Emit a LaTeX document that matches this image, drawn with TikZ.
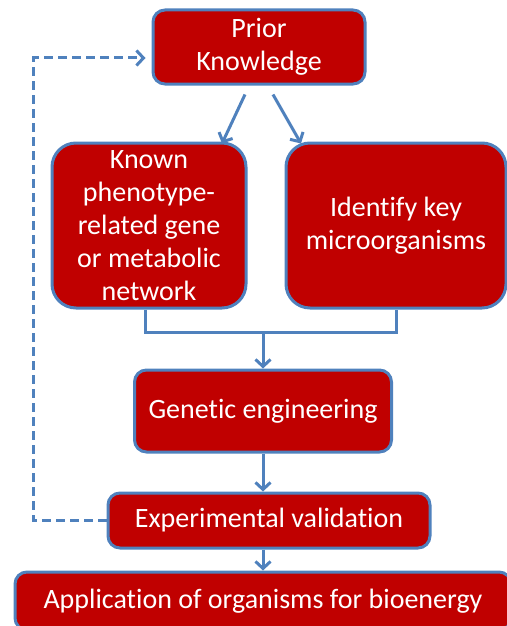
\documentclass[tikz,border=0pt]{standalone}
\usepackage{fontspec}
\setmainfont{Carlito}[Ligatures=NoCommon]
\usetikzlibrary{positioning,arrows.meta}

\definecolor{boxRed}{HTML}{C00000}
\definecolor{edgeBlue}{HTML}{4F81BD}

\tikzset{
    stagebox/.style={draw=edgeBlue, line width=3pt, fill=boxRed, text=white,
        rounded corners=12pt, align=center, inner sep=0pt,
        font=\fontsize{28}{33}\selectfont},
    flow/.style={draw=edgeBlue, line width=3pt, -{Straight Barb[length=7pt,width=15pt]}},
    feedback/.style={flow, dash pattern=on 9pt off 5pt}
}

\begin{document}
\begin{tikzpicture}[x=1pt,y=-1pt]
    \useasboundingbox (0,0) rectangle (506,626);
    \node[stagebox, minimum width=212pt, minimum height=74pt] (priorKnowledge) at (259,47) {Prior\\Knowledge};
    \node[stagebox, rounded corners=24pt, minimum width=194pt, minimum height=165pt,
          below=56pt of priorKnowledge, xshift=-110pt] (knownGene)
          {Known\\phenotype-\\related gene\\or metabolic\\network};
    \node[stagebox, rounded corners=24pt, minimum width=220pt, minimum height=165pt,
          right=37pt of knownGene] (keyMicrobes) {Identify key\\microorganisms};
    \node[stagebox, minimum width=257pt, minimum height=82pt] (geneticEng) at (263,411) {Genetic engineering};
    \node[stagebox, minimum width=322pt, minimum height=55pt,
          below=38pt of geneticEng, xshift=6pt] (expValidation) {Experimental validation};
    \node[stagebox, minimum width=496pt, minimum height=58pt] (application) at (263,601)
          {Application of organisms for bioenergy};

    \coordinate (mergePt) at (263,332);
    \draw[flow] ([xshift=-14pt,yshift=-9pt]priorKnowledge.south) -- ([xshift=73pt,yshift=-2pt]knownGene.north);
    \draw[flow] ([xshift=14pt,yshift=-9pt]priorKnowledge.south) -- ([xshift=-95pt,yshift=-2pt]keyMicrobes.north);
    \draw[draw=edgeBlue, line width=3pt] ([xshift=-4pt]knownGene.south) |- (mergePt) -| (keyMicrobes.south);
    \draw[flow] (mergePt) -- (geneticEng.north);
    \draw[flow] (geneticEng.south) -- (geneticEng.south |- expValidation.north);
    \draw[flow] (geneticEng.south |- expValidation.south) -- (geneticEng.south |- application.north);
    \draw[feedback] (expValidation.west) -- ++(-73,0) |- ([xshift=-6pt,yshift=-11pt]priorKnowledge.west);
\end{tikzpicture}
\end{document}
